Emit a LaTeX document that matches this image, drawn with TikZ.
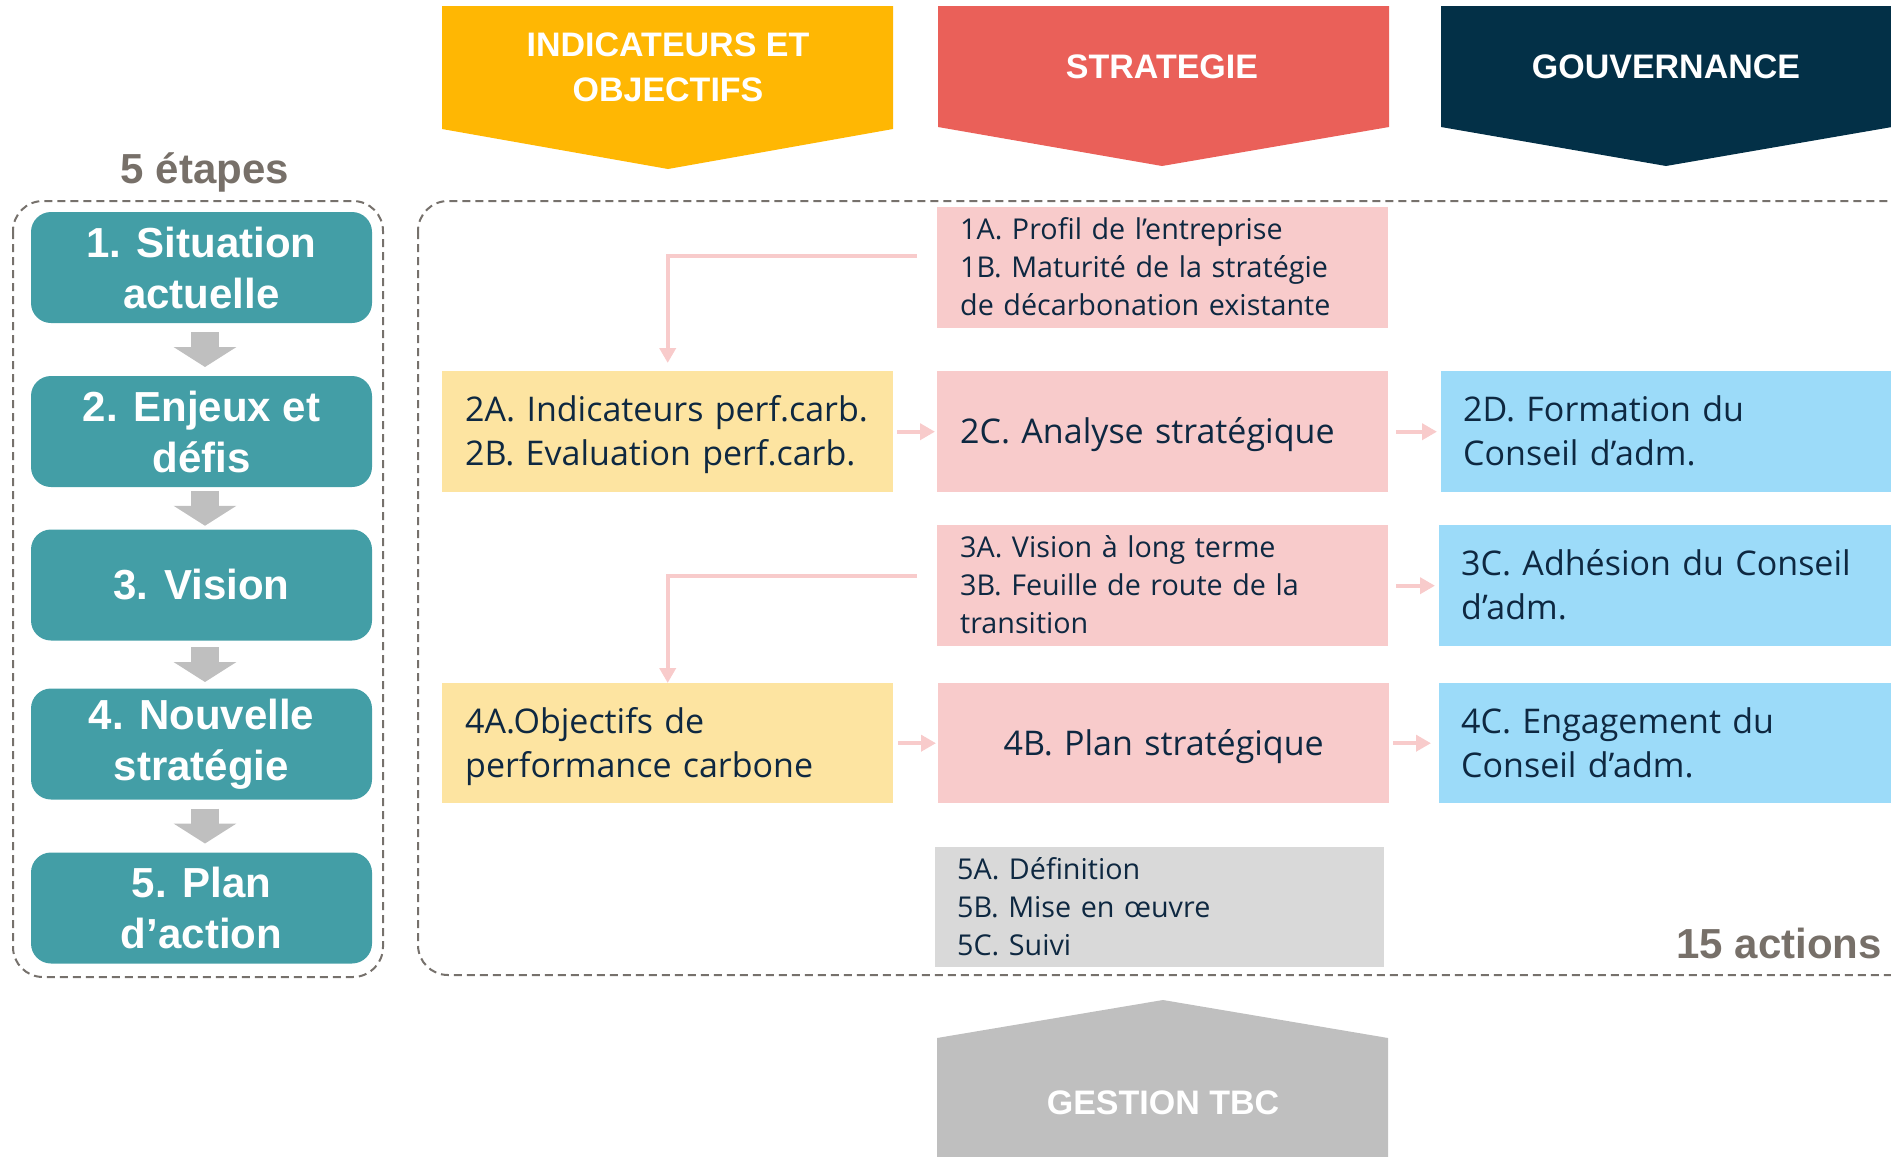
\documentclass[tikz,border=0pt]{standalone}
\usepackage{fontspec}
\setmainfont{Open Sans}
\newfontfamily\headfont{Liberation Sans}
\usetikzlibrary{arrows.meta,calc}
\definecolor{cTeal}{RGB}{67,158,166}
\definecolor{cYel}{RGB}{255,183,3}
\definecolor{cRed}{RGB}{234,96,89}
\definecolor{cNavy}{RGB}{3,48,71}
\definecolor{cGrayB}{RGB}{191,191,191}
\definecolor{cPink}{RGB}{248,203,203}
\definecolor{cLYel}{RGB}{253,228,161}
\definecolor{cBlue}{RGB}{156,219,249}
\definecolor{cLGray}{RGB}{217,217,217}
\definecolor{cText}{RGB}{14,40,65}
\definecolor{cDash}{RGB}{118,113,108}
\definecolor{cLabel}{RGB}{119,112,105}
\newcommand\fsBig{\fontsize{34}{44}\selectfont}
\newcommand\fsSmall{\fontsize{28.7}{38}\selectfont}
\tikzset{
  bannertext/.style={text=white, align=center, font=\headfont\bfseries\fontsize{34}{45}\selectfont},
  dashbox/.style={draw=cDash, line width=2, dash pattern=on 8pt off 5pt, rounded corners=30},
  biglabel/.style={text=cLabel, inner sep=0, font=\headfont\bfseries\fontsize{42}{50}\selectfont},
  stepbox/.style={fill=cTeal, rounded corners=20, minimum width=341, minimum height=111, text=white, align=center, font=\headfont\bfseries\fontsize{42}{51}\selectfont},
  steparrow/.style={draw=cGrayB, line width=28, -{Triangle[length=20,width=62]}},
  basebox/.style={anchor=north west, minimum height=121, text width=405, inner xsep=23, inner ysep=0, align=left, text=cText},
  bodybox/.style={basebox, font=\fsBig,
     execute at begin node={\rule{0pt}{34pt}},
     execute at end node={\rule[-10pt]{0pt}{10pt}}},
  smallbox/.style={basebox, font=\fsSmall,
     execute at begin node={\rule{0pt}{28pt}},
     execute at end node={\rule[-8pt]{0pt}{8pt}}},
  bluebox/.style={bodybox, fill=cBlue, text width=427, inner xsep=22},
  pinkarrow/.style={draw=cPink, line width=4, -{Triangle[length=15,width=16]}},
}
\begin{document}
\begin{tikzpicture}[x=1pt,y=-1pt]
\useasboundingbox (0,0) rectangle (1891,1157);

% top banners
\fill[cYel] (442,6) -- (893,6) -- (893,129) -- (668,169) -- (442,129) -- cycle;
\node[bannertext] (hInd) at (668,67) {INDICATEURS ET\\OBJECTIFS};
\fill[cRed] (938,6) -- (1389,6) -- (1389,127) -- (1162,166) -- (938,127) -- cycle;
\node[bannertext] (hStr) at (1162,67) {STRATEGIE};
\fill[cNavy] (1441,6) -- (1892,6) -- (1892,127) -- (1666,166) -- (1441,127) -- cycle;
\node[bannertext] (hGov) at (1666,67) {GOUVERNANCE};

% bottom banner
\fill[cGrayB] (937,1038) -- (1163,1000) -- (1388,1038) -- (1388,1170) -- (937,1170) -- cycle;
\node[bannertext] (hGes) at (1163,1103) {GESTION TBC};

% dashed frames
\draw[dashbox] (13,201) rectangle (383,977);
\draw[dashbox] (418,201) rectangle (1960,975);

% labels
\node[biglabel, anchor=base] (lEt) at (205,183) {5 étapes};
\node[biglabel, anchor=base east] (lAc) at (1882,958) {15 actions};

% steps
\node[stepbox] (st1) at (201.5,267.5) {1. Situation\\actuelle};
\node[stepbox] (st2) at (201.5,431.5) {2. Enjeux et\\défis};
\node[stepbox] (st3) at (201.5,585) {3. Vision};
\node[stepbox] (st4) at (201.5,744) {4. Nouvelle\\stratégie};
\node[stepbox] (st5) at (201.5,908) {5. Plan\\d’action};

\foreach \a/\b in {st1/st2,st2/st3,st3/st4,st4/st5}{
  \coordinate (m) at ($(\a.south)!0.5!(\b.north)$);
  \draw[steparrow] ([shift={(3.5,-17.5)}]m) -- ([shift={(3.5,17.5)}]m);
}

% action boxes
\node[smallbox, fill=cPink] (p1) at (937,207) {1A. Profil de l’entreprise\\1B. Maturité de la stratégie\\de décarbonation existante};
\node[bodybox, fill=cLYel] (i2) at (442,371) {2A. Indicateurs perf.carb.\\2B. Evaluation perf.carb.};
\node[bodybox, fill=cPink] (s2) at (937,371) {2C. Analyse stratégique};
\node[bluebox] (g2) at (1441,371) {2D. Formation du\\Conseil d’adm.};
\node[smallbox, fill=cPink] (p3) at (937,525) {3A. Vision à long terme\\3B. Feuille de route de la\\transition};
\node[bluebox] (g3) at (1439,525) {3C. Adhésion du Conseil\\d’adm.};
\node[bodybox, fill=cLYel, minimum height=120] (i4) at (442,683) {4A.Objectifs de\\performance carbone};
\node[bodybox, fill=cPink, minimum height=120, align=center] (s4) at (938,683) {4B. Plan stratégique};
\node[bluebox, minimum height=120] (g4) at (1439,683) {4C. Engagement du\\Conseil d’adm.};
\node[smallbox, fill=cLGray, minimum height=120, inner xsep=22] (a5) at (935,847) {5A. Définition\\5B. Mise en œuvre\\5C. Suivi};

% connectors
\coordinate (c1) at (917,256);
\draw[pinkarrow, shorten >=8] (c1) -| (i2.north);
\coordinate (c3) at (917,576);
\draw[pinkarrow, shorten >=0] (c3) -| (i4.north);
\draw[pinkarrow, shorten <=4, shorten >=2] (i2) -- (s2);
\draw[pinkarrow, shorten <=8, shorten >=4] (s2) -- (g2);
\draw[pinkarrow, shorten <=8, shorten >=4] (p3) -- (g3);
\draw[pinkarrow, shorten <=5, shorten >=2] (i4) -- (s4);
\draw[pinkarrow, shorten <=4, shorten >=8] (s4) -- (g4);
\end{tikzpicture}
\end{document}
